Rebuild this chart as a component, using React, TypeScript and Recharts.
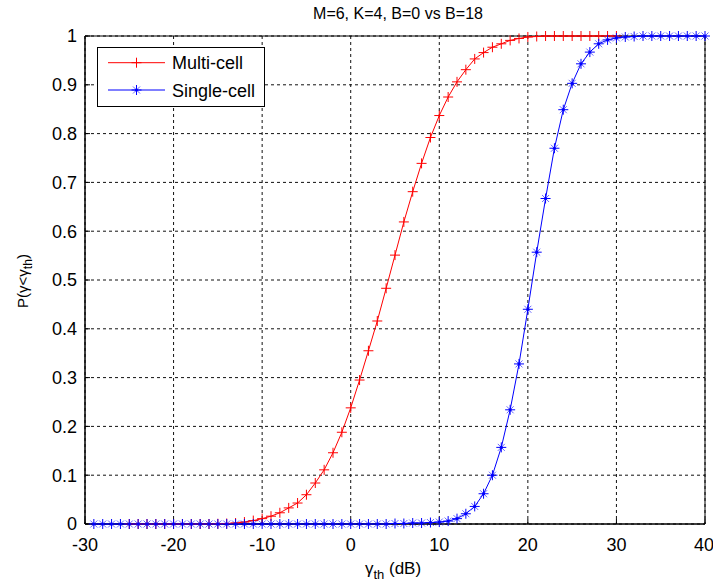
import React from 'react';
import {
  LineChart,
  Line,
  XAxis,
  YAxis,
  CartesianGrid,
  Legend,
  ReferenceArea,
  Customized,
} from 'recharts';

const FONT = '"Liberation Sans", Arial, Helvetica, sans-serif';

const titleText = 'M=6, K=4, B=0 vs B=18';
const xTicks = [-30, -20, -10, 0, 10, 20, 30, 40];
const yTicks = [0, 0.1, 0.2, 0.3, 0.4, 0.5, 0.6, 0.7, 0.8, 0.9, 1];

const multiCellX = [
  -25, -24, -23, -22, -21, -20, -19, -18, -17, -16, -15, -14, -13, -12, -11, -10,
  -9, -8, -7, -6, -5, -4, -3, -2, -1, 0, 1, 2, 3, 4, 5, 6, 7, 8, 9, 10, 11, 12, 13,
  14, 15, 16, 17, 18, 19, 20, 21, 22, 23, 24, 25, 26, 27, 28, 29, 30,
];
const multiCellP = [
  0, 0, 0, 0, 0, 0, 0, 0, 0, 0, 0.0005, 0.001, 0.002, 0.004, 0.007, 0.011,
  0.016, 0.023, 0.033, 0.043, 0.06, 0.084, 0.111, 0.146, 0.188, 0.238, 0.295, 0.355, 0.416, 0.483, 0.551, 0.619, 0.681, 0.739, 0.792, 0.837, 0.875, 0.906, 0.931,
  0.953, 0.966, 0.977, 0.984, 0.991, 0.995, 0.998, 0.999, 1, 1, 1, 1, 1, 1, 1, 1, 1,
];

const singleCellX = [
  -29, -28, -27, -26, -25, -24, -23, -22, -21, -20, -19, -18, -17, -16, -15, -14,
  -13, -12, -11, -10, -9, -8, -7, -6, -5, -4, -3, -2, -1, 0, 1, 2, 3, 4, 5, 6, 7,
  8, 9, 10, 11, 12, 13, 14, 15, 16, 17, 18, 19, 20, 21, 22, 23, 24, 25, 26, 27, 28,
  29, 30, 31, 32, 33, 34, 35, 36, 37, 38, 39, 40,
];
const singleCellP = [
  0, 0, 0, 0, 0, 0, 0, 0, 0, 0, 0, 0, 0, 0, 0, 0,
  0, 0, 0, 0, 0, 0, 0, 0, 0, 0, 0, 0, 0, 0, 0, 0, 0, 0, 0.001, 0.001, 0.002,
  0.002, 0.003, 0.004, 0.006, 0.011, 0.021, 0.036, 0.062, 0.1, 0.157, 0.234, 0.328, 0.44, 0.557, 0.667, 0.77, 0.849, 0.903, 0.943, 0.967, 0.984,
  0.992, 0.996, 0.998, 0.999, 1, 1, 1, 1, 1, 1, 1, 1,
];

const multiData = multiCellX.map((x, i) => ({ x, p: multiCellP[i] }));
const singleData = singleCellX.map((x, i) => ({ x, p: singleCellP[i] }));

const RED = '#ff0000';
const BLUE = '#0000ff';

const PlusMark = ({ cx, cy, color }: any) => (
  <g>
    <line x1={cx - 5} y1={cy} x2={cx + 5} y2={cy} stroke={color} strokeWidth={1} />
    <line x1={cx} y1={cy - 5} x2={cx} y2={cy + 5} stroke={color} strokeWidth={1} />
  </g>
);

const StarMark = ({ cx, cy, color }: any) => (
  <g>
    <line x1={cx - 5} y1={cy} x2={cx + 5} y2={cy} stroke={color} strokeWidth={1} />
    <line x1={cx} y1={cy - 5} x2={cx} y2={cy + 5} stroke={color} strokeWidth={1} />
    <line x1={cx - 3.5} y1={cy - 3.5} x2={cx + 3.5} y2={cy + 3.5} stroke={color} strokeWidth={1} strokeOpacity={0.6} />
    <line x1={cx - 3.5} y1={cy + 3.5} x2={cx + 3.5} y2={cy - 3.5} stroke={color} strokeWidth={1} strokeOpacity={0.6} />
    <circle cx={cx} cy={cy} r={1.6} fill={color} />
  </g>
);

const LegendBox = () => (
  <div
    style={{
      width: 168,
      height: 60,
      boxSizing: 'border-box',
      border: '1px solid #000',
      background: '#fff',
    }}
  >
    <svg width={166} height={58} style={{ display: 'block' }}>
      <line x1={10} y1={14.7} x2={67} y2={14.7} stroke={RED} strokeWidth={1} />
      <PlusMark cx={38.5} cy={14.7} color={RED} />
      <text x={74} y={21} fontSize={18} fontFamily={FONT} fill="#000">Multi-cell</text>
      <line x1={10} y1={42} x2={67} y2={42} stroke={BLUE} strokeWidth={1} />
      <StarMark cx={38.5} cy={42} color={BLUE} />
      <text x={74} y={48.5} fontSize={18} fontFamily={FONT} fill="#000">Single-cell</text>
    </svg>
  </div>
);

const Title = () => (
  <g>
    <text x={398} y={19} textAnchor="middle" fontSize={16} fontFamily={FONT} fill="#000">
      {titleText}
    </text>
    <text x={393} y={574} textAnchor="middle" fontSize={17} fontFamily={FONT} fill="#000">
      <tspan>γ</tspan>
      <tspan fontSize={13} dy={5}>th</tspan>
      <tspan dy={-5}> (dB)</tspan>
    </text>
    <text
      x={28}
      y={281}
      textAnchor="middle"
      fontSize={15}
      fontFamily={FONT}
      fill="#000"
      transform="rotate(-90 28 281)"
    >
      <tspan>P(γ&lt;γ</tspan>
      <tspan fontSize={12} dy={4}>th</tspan>
      <tspan dy={-4}>)</tspan>
    </text>
  </g>
);

const tickStyle = { fill: '#000', fontSize: 18, fontFamily: FONT };

export default function App() {
  return (
    <div style={{ position: 'absolute', left: 0, top: 0, background: '#fff' }}>
      <LineChart
        width={713}
        height={583}
        margin={{ top: 36, right: 8, bottom: 0, left: 0 }}
        style={{ fontFamily: FONT }}
      >
        <CartesianGrid stroke="#111" strokeDasharray="3 3" />
        <XAxis
          dataKey="x"
          type="number"
          domain={[-30, 40]}
          ticks={xTicks}
          allowDuplicatedCategory={false}
          tick={tickStyle}
          tickSize={-5}
          tickMargin={19}
          tickLine={{ stroke: '#000' }}
          axisLine={{ stroke: '#000' }}
          height={59}
        />
        <YAxis
          type="number"
          domain={[0, 1]}
          ticks={yTicks}
          tick={tickStyle}
          tickSize={-5}
          tickMargin={13}
          tickLine={{ stroke: '#000' }}
          axisLine={{ stroke: '#000' }}
          width={85}
        />
        <ReferenceArea x1={-30} x2={40} y1={0} y2={1} fill="none" stroke="#000" strokeWidth={1} />
        <Line
          data={multiData}
          dataKey="p"
          name="Multi-cell"
          stroke={RED}
          strokeWidth={1}
          isAnimationActive={false}
          dot={(props: any) => <PlusMark key={`m-${props.index}`} cx={props.cx} cy={props.cy} color={RED} />}
          activeDot={false}
        />
        <Line
          data={singleData}
          dataKey="p"
          name="Single-cell"
          stroke={BLUE}
          strokeWidth={1}
          isAnimationActive={false}
          dot={(props: any) => <StarMark key={`s-${props.index}`} cx={props.cx} cy={props.cy} color={BLUE} />}
          activeDot={false}
        />
        <Legend
          layout="vertical"
          align="center"
          verticalAlign="middle"
          wrapperStyle={{ position: 'absolute', left: 97, top: 47, width: 168, height: 60 }}
          content={() => <LegendBox />}
        />
        <Customized component={Title} />
      </LineChart>
    </div>
  );
}
